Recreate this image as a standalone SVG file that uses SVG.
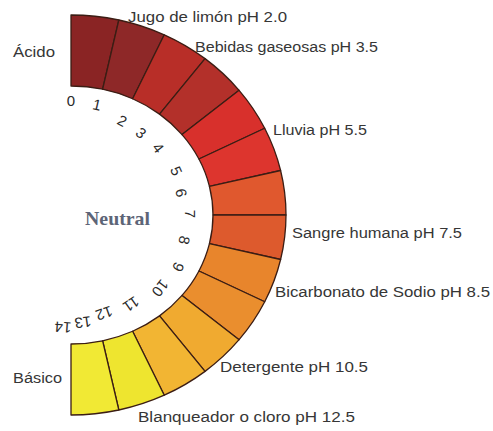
<svg xmlns="http://www.w3.org/2000/svg" width="493" height="431" viewBox="0 0 493 431">
<style>
.seg{stroke:#3b1d14;stroke-width:1.3;stroke-linejoin:round}
.lbl{font-family:"Liberation Sans",Arial,sans-serif;font-size:15.5px;fill:#363636}
.num{font-family:"Liberation Sans",Arial,sans-serif;font-size:15px;fill:#2a2a2a;text-anchor:middle}
.neu{font-family:"Liberation Serif","Times New Roman",serif;font-size:19px;font-weight:bold;fill:#5d6577}
</style>
<rect width="493" height="431" fill="#ffffff"/>
<g id="scale">
<path id="seg0" class="seg" fill="#8a2424" d="M71,15 A215,200 0 0 1 118.84,20.01 L102.60,89.23 A142,129 0 0 0 71,86 Z"/>
<path id="seg1" class="seg" fill="#8e2828" d="M118.84,20.01 A215,200 0 0 1 164.28,34.81 L132.61,98.77 A142,129 0 0 0 102.60,89.23 Z"/>
<path id="seg2" class="seg" fill="#b82e28" d="M164.28,34.81 A215,200 0 0 1 205.05,58.63 L159.54,114.14 A142,129 0 0 0 132.61,98.77 Z"/>
<path id="seg3" class="seg" fill="#b3302a" d="M205.05,58.63 A215,200 0 0 1 239.09,90.30 L182.02,134.57 A142,129 0 0 0 159.54,114.14 Z"/>
<path id="seg4" class="seg" fill="#d8302c" d="M239.09,90.30 A215,200 0 0 1 264.71,128.22 L198.94,159.03 A142,129 0 0 0 182.02,134.57 Z"/>
<path id="seg5" class="seg" fill="#dd352e" d="M264.71,128.22 A215,200 0 0 1 280.61,170.50 L209.44,186.29 A142,129 0 0 0 198.94,159.03 Z"/>
<path id="seg6" class="seg" fill="#e0582e" d="M280.61,170.50 A215,200 0 0 1 286,215 L213,215 A142,129 0 0 0 209.44,186.29 Z"/>
<path id="seg7" class="seg" fill="#dd5a2d" d="M286,215 A215,200 0 0 1 280.61,259.50 L209.44,243.71 A142,129 0 0 0 213,215 Z"/>
<path id="seg8" class="seg" fill="#e8852c" d="M280.61,259.50 A215,200 0 0 1 264.71,301.78 L198.94,270.97 A142,129 0 0 0 209.44,243.71 Z"/>
<path id="seg9" class="seg" fill="#ea8e2e" d="M264.71,301.78 A215,200 0 0 1 239.09,339.70 L182.02,295.43 A142,129 0 0 0 198.94,270.97 Z"/>
<path id="seg10" class="seg" fill="#f0aa30" d="M239.09,339.70 A215,200 0 0 1 205.05,371.37 L159.54,315.86 A142,129 0 0 0 182.02,295.43 Z"/>
<path id="seg11" class="seg" fill="#f2b533" d="M205.05,371.37 A215,200 0 0 1 164.28,395.19 L132.61,331.23 A142,129 0 0 0 159.54,315.86 Z"/>
<path id="seg12" class="seg" fill="#eee52f" d="M164.28,395.19 A215,200 0 0 1 118.84,409.99 L102.60,340.77 A142,129 0 0 0 132.61,331.23 Z"/>
<path id="seg13" class="seg" fill="#f1e934" d="M118.84,409.99 A215,200 0 0 1 71,415 L71,344 A142,129 0 0 0 102.60,340.77 Z"/>
</g>
<g id="numbers">
<text class="num" transform="translate(71,101) rotate(0)" dy="5">0</text>
<text class="num" transform="translate(97,105) rotate(13)" dy="5">1</text>
<text class="num" transform="translate(122,121) rotate(28)" dy="5">2</text>
<text class="num" transform="translate(141,133) rotate(40)" dy="5">3</text>
<text class="num" transform="translate(158,148) rotate(52)" dy="5">4</text>
<text class="num" transform="translate(176,171) rotate(66)" dy="5">5</text>
<text class="num" transform="translate(181,193) rotate(79)" dy="5">6</text>
<text class="num" transform="translate(190,214) rotate(90)" dy="5">7</text>
<text class="num" transform="translate(184,240) rotate(102)" dy="5">8</text>
<text class="num" transform="translate(178,267) rotate(115)" dy="5">9</text>
<text class="num" transform="translate(160,288) rotate(128)" dy="5">10</text>
<text class="num" transform="translate(131,304) rotate(145)" dy="5">11</text>
<text class="num" transform="translate(104,313) rotate(160)" dy="5">12</text>
<text class="num" transform="translate(83,322) rotate(172)" dy="5">13</text>
<text class="num" transform="translate(63,327) rotate(184)" dy="5">14</text>
</g>
<g id="acido"><text class="lbl" x="13" y="57" textLength="42" lengthAdjust="spacingAndGlyphs">Ácido</text></g>
<g id="basico"><text class="lbl" x="13" y="383" textLength="49" lengthAdjust="spacingAndGlyphs">Básico</text></g>
<g id="neutral"><text class="neu" x="85" y="225" textLength="65" lengthAdjust="spacingAndGlyphs">Neutral</text></g>
<g id="jugo"><text class="lbl" x="128" y="22" textLength="159" lengthAdjust="spacingAndGlyphs">Jugo de limón pH 2.0</text></g>
<g id="bebidas"><text class="lbl" x="195" y="52" textLength="183" lengthAdjust="spacingAndGlyphs">Bebidas gaseosas pH 3.5</text></g>
<g id="lluvia"><text class="lbl" x="273" y="135" textLength="94" lengthAdjust="spacingAndGlyphs">Lluvia pH 5.5</text></g>
<g id="sangre"><text class="lbl" x="292" y="238" textLength="170" lengthAdjust="spacingAndGlyphs">Sangre humana pH 7.5</text></g>
<g id="bicarbonato"><text class="lbl" x="275" y="297" textLength="215" lengthAdjust="spacingAndGlyphs">Bicarbonato de Sodio pH 8.5</text></g>
<g id="detergente"><text class="lbl" x="220" y="372" textLength="148" lengthAdjust="spacingAndGlyphs">Detergente pH 10.5</text></g>
<g id="blanqueador"><text class="lbl" x="138" y="422" textLength="217" lengthAdjust="spacingAndGlyphs">Blanqueador o cloro pH 12.5</text></g>
</svg>
